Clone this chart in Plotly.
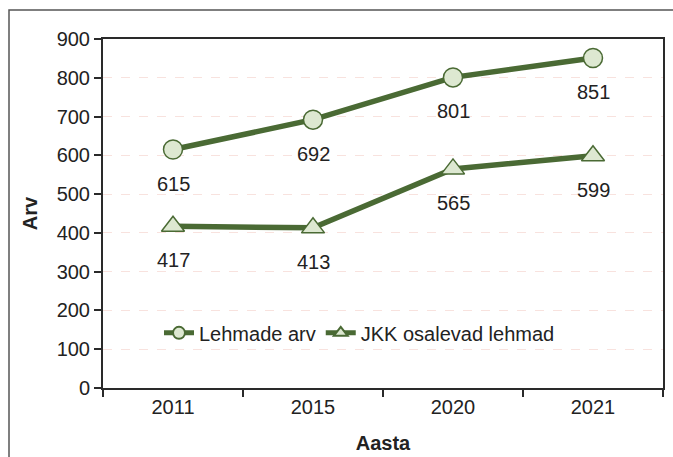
import plotly.graph_objects as go

years = ["2011", "2015", "2020", "2021"]
lehmade_arv = [615, 692, 801, 851]
jkk_lehmad = [417, 413, 565, 599]
y_ticks = [0, 100, 200, 300, 400, 500, 600, 700, 800, 900]

line_green = "#4a6a34"
marker_fill = "#dde8d1"
text_color = "#222222"
font_family = "Liberation Sans, Arial, sans-serif"

fig = go.Figure()
fig.add_trace(go.Scatter(
    x=years, y=lehmade_arv, name="Lehmade arv",
    mode="lines+markers",
    line=dict(color=line_green, width=5.5),
    marker=dict(symbol="circle", size=19, color=marker_fill,
                line=dict(color=line_green, width=1.5)),
))
fig.add_trace(go.Scatter(
    x=years, y=jkk_lehmad, name="JKK osalevad lehmad",
    mode="lines+markers",
    line=dict(color=line_green, width=5.5),
    marker=dict(symbol="triangle-up", size=20, color=marker_fill,
                line=dict(color=line_green, width=1.5)),
))

# value labels placed under each point (category index as x position)
for series in (lehmade_arv, jkk_lehmad):
    for i, v in enumerate(series):
        fig.add_annotation(x=i, y=v, text=str(v), showarrow=False,
                           yshift=-34, font=dict(size=20, color=text_color))

fig.update_layout(
    width=673, height=457,
    margin=dict(l=103, r=10, t=39, b=69),
    paper_bgcolor="white", plot_bgcolor="white",
    font=dict(family=font_family, size=20, color=text_color),
    showlegend=True,
    legend=dict(orientation="h", x=0.1, y=0.158, xanchor="left", yanchor="middle",
                bgcolor="rgba(0,0,0,0)", font=dict(size=20),
                itemsizing="constant", tracegroupgap=0),
    xaxis=dict(
        type="category", categoryorder="array", categoryarray=years,
        range=[-0.5, len(years) - 0.5], tickangle=0, automargin=False,
        showline=True, linecolor="#2a2a2a", linewidth=2, mirror=True,
        ticks="outside", tickson="boundaries", ticklen=7, tickwidth=1.5,
        tickcolor="#2a2a2a", showgrid=False,
        title=dict(text="<b>Aasta</b>", font=dict(size=20), standoff=19),
        tickfont=dict(size=20),
    ),
    yaxis=dict(
        range=[0, 900], tickvals=y_ticks, automargin=False,
        showline=True, linecolor="#2a2a2a", linewidth=2, mirror=True,
        ticks="outside", ticklen=7, tickwidth=1.5, tickcolor="#2a2a2a",
        showgrid=True, gridcolor="#f8e2de", griddash="dash", gridwidth=1,
        zeroline=False,
        title=dict(text="<b>Arv</b>", font=dict(size=20), standoff=14),
        tickfont=dict(size=20),
    ),
)

# outer frame around the whole chart
fig.add_shape(type="rect", xref="paper", yref="paper",
              x0=-94 / 560, x1=720 / 560, y0=-100 / 349, y1=(349 + 29) / 349,
              line=dict(color="#555555", width=1.5), fillcolor="rgba(0,0,0,0)",
              layer="below")

fig.write_html("out.html")
